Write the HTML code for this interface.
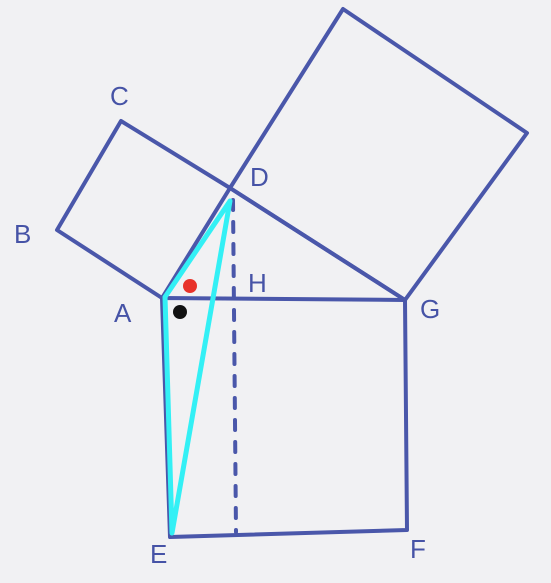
<!DOCTYPE html>
<html>
<head>
<meta charset="utf-8">
<style>
html,body{margin:0;padding:0;background:#f1f1f3;}
svg{display:block;}
text{font-family:"Liberation Sans",sans-serif;font-size:26px;fill:#4653a6;}
</style>
</head>
<body>
<svg width="551" height="583" viewBox="0 0 551 583">
<rect x="0" y="0" width="551" height="583" fill="#f1f1f3"/>
<g fill="none" stroke="#4a57aa" stroke-width="4" stroke-linejoin="round" stroke-linecap="round">
  <polygon points="162,298 57,230 121,121 230,188"/>
  <polygon points="230,188 343,9 527,133 405,300"/>
  <polygon points="162,298 405,300 407,530 170,537"/>
  <line x1="230" y1="188" x2="405" y2="300"/>
  <line x1="233" y1="200" x2="236" y2="532" stroke-dasharray="10,12"/>
</g>
<g fill="none" stroke="#33f0f5" stroke-width="5" stroke-linejoin="round" stroke-linecap="round">
  <polygon points="165,297 230,201 172,533"/>
</g>
<circle cx="190" cy="286" r="7" fill="#e8322a"/>
<circle cx="180" cy="312" r="7" fill="#111"/>
<text x="110" y="105">C</text>
<text x="14" y="243">B</text>
<text x="250" y="186">D</text>
<text x="248" y="292">H</text>
<text x="114" y="322">A</text>
<text x="420" y="318">G</text>
<text x="150" y="563">E</text>
<text x="410" y="558">F</text>
</svg>
</body>
</html>
